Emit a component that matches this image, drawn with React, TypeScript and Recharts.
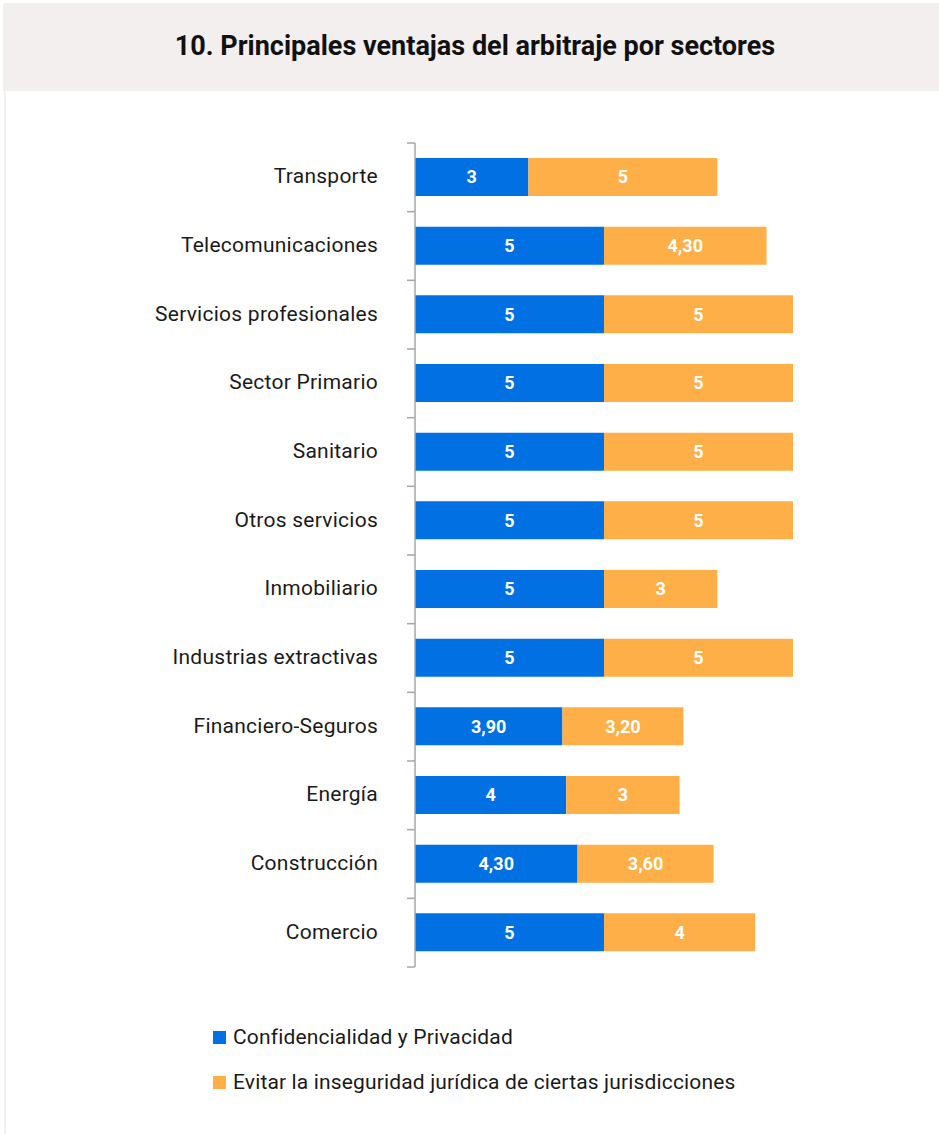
import React from "react";
import { BarChart, Bar, XAxis, YAxis, LabelList } from "recharts";

const categories = [
  "Transporte",
  "Telecomunicaciones",
  "Servicios profesionales",
  "Sector Primario",
  "Sanitario",
  "Otros servicios",
  "Inmobiliario",
  "Industrias extractivas",
  "Financiero-Seguros",
  "Energía",
  "Construcción",
  "Comercio",
];
const confidencialidad = [3, 5, 5, 5, 5, 5, 5, 5, 3.9, 4, 4.3, 5];
const evitarInseguridad = [5, 4.3, 5, 5, 5, 5, 3, 5, 3.2, 3, 3.6, 4];

const seriesNames = [
  "Confidencialidad y Privacidad",
  "Evitar la inseguridad jurídica de ciertas jurisdicciones",
];
const title = "10. Principales ventajas del arbitraje por sectores";

const BLUE = "#0070e2";
const ORANGE = "#ffaf47";
const FONT = "Roboto, 'Noto Sans', sans-serif";

const data = categories.map((c, i) => ({
  name: c,
  a: confidencialidad[i],
  b: evitarInseguridad[i],
}));

const fmt = (v: any) => {
  const n = Number(v);
  return Number.isInteger(n) ? String(n) : n.toFixed(2).replace(".", ",");
};

const CHART_W = 939;
const CHART_H = 1000;
const MARGIN = { top: 143, right: 146, bottom: 33, left: 0 };
const BAND = (CHART_H - MARGIN.top - MARGIN.bottom) / categories.length;

const CategoryTick = (props: any) => {
  const { x, y, payload, index } = props;
  const axisX = x + 8 + 29;
  return (
    <g>
      <line x1={axisX - 8} x2={axisX} y1={y - BAND / 2} y2={y - BAND / 2} stroke="#a6a6a6" strokeWidth={1.5} />
      {index === categories.length - 1 && (
        <line x1={axisX - 8} x2={axisX} y1={y + BAND / 2} y2={y + BAND / 2} stroke="#a6a6a6" strokeWidth={1.5} />
      )}
      <text x={x} y={y - 1} textAnchor="end" dominantBaseline="central" fill="#1a1a1a" fontSize={21} letterSpacing={0.25} fontFamily={FONT}>
        {payload.value}
      </text>
    </g>
  );
};

export default function App() {
  return (
    <div style={{ position: "absolute", left: 0, top: 0, width: 939, height: 1134, background: "#fff", fontFamily: FONT }}>
      <div style={{ position: "absolute", left: 3, top: 3, width: 936, height: 88, background: "#f2efee" }} />
      <div style={{ position: "absolute", left: 4, top: 91, width: 2, height: 1043, background: "#f2efee" }} />
      <div
        style={{
          position: "absolute",
          left: 3,
          top: 3,
          width: 936,
          height: 86,
          display: "flex",
          alignItems: "center",
          justifyContent: "center",
          fontSize: 27,
          fontWeight: 700,
          color: "#111",
          paddingLeft: 8,
          boxSizing: "border-box",
          whiteSpace: "nowrap",
        }}
      >
        {title}
      </div>
      <div style={{ position: "absolute", left: 0, top: 0 }}>
        <BarChart width={CHART_W} height={CHART_H} data={data} layout="vertical" margin={MARGIN}>
          <XAxis type="number" domain={[0, 10]} hide />
          <YAxis
            type="category"
            dataKey="name"
            width={415}
            axisLine={{ stroke: "#a6a6a6", strokeWidth: 1.5 }}
            tickLine={false}
            tickSize={8}
            tickMargin={29}
            tick={<CategoryTick />}
            interval={0}
          />
          <Bar dataKey="a" stackId="s" fill={BLUE} barSize={38} isAnimationActive={false}>
            <LabelList dataKey="a" position="center" formatter={fmt} fill="#fff" fontSize={18} fontWeight={700} fontFamily={FONT} />
          </Bar>
          <Bar dataKey="b" stackId="s" fill={ORANGE} barSize={38} isAnimationActive={false}>
            <LabelList dataKey="b" position="center" formatter={fmt} fill="#fff" fontSize={18} fontWeight={700} fontFamily={FONT} />
          </Bar>
        </BarChart>
      </div>
      {seriesNames.map((n, i) => (
        <div
          key={n}
          style={{
            position: "absolute",
            left: 213,
            top: 1024 + i * 45,
            height: 26,
            display: "flex",
            alignItems: "center",
            fontSize: 21,
            letterSpacing: 0.15,
            color: "#1a1a1a",
            whiteSpace: "nowrap",
          }}
        >
          <span style={{ width: 13, height: 13, background: i === 0 ? BLUE : ORANGE, marginRight: 7, display: "inline-block" }} />
          {n}
        </div>
      ))}
    </div>
  );
}
